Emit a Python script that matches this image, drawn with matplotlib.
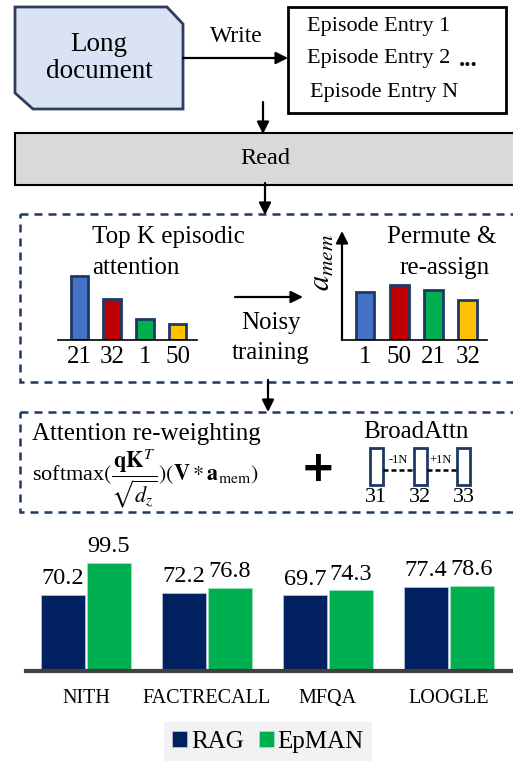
import numpy as np
import matplotlib
matplotlib.use("Agg")
import matplotlib.pyplot as plt
from matplotlib.patches import Polygon, Rectangle

plt.rcParams['font.family'] = ['Liberation Serif', 'DejaVu Serif']
plt.rcParams['mathtext.fontset'] = 'stix'

# data
topk_ids = ["21", "32", "1", "50"]
topk_attn = [0.64, 0.41, 0.21, 0.16]
perm_ids = ["1", "50", "21", "32"]
perm_attn = [0.48, 0.55, 0.50, 0.40]
small_colors = ["#4472c4", "#c00000", "#00b050", "#ffc000"]

datasets = ["NITH", "FACTRECALL", "MFQA", "LOOGLE"]
rag = [70.2, 72.2, 69.7, 77.4]
epman = [99.5, 76.8, 74.3, 78.6]

W, H = 513, 761
fig = plt.figure(figsize=(W / 100, H / 100), dpi=100)
ax = fig.add_axes([0, 0, 1, 1])
ax.set_xlim(0, W)
ax.set_ylim(H, 0)
ax.axis('off')

navy = "#1f3864"


def px_axes(x0, y0, x1, y1):
    # axes placed in pixel coordinates (y from top)
    return fig.add_axes([x0 / W, 1 - y1 / H, (x1 - x0) / W, (y1 - y0) / H])


def arrow(x0, y0, x1, y1):
    ax.annotate('', xy=(x1, y1), xytext=(x0, y0),
                arrowprops=dict(arrowstyle='-|>', color='black', lw=1.6,
                                mutation_scale=18, shrinkA=0, shrinkB=0))


# long document shape
doc = Polygon([(15, 7), (167, 7), (183, 24), (183, 109), (33, 109), (15, 93)],
              closed=True, facecolor="#dae3f3", edgecolor="#2f3e5c", lw=2)
ax.add_patch(doc)
ax.text(99, 58, "Long\ndocument", ha='center', va='center', fontsize=19.5,
        linespacing=1.15)

# write arrow
arrow(183, 58, 288, 58)
ax.text(236, 36, "Write", ha='center', va='center', fontsize=17)

# episode box
ax.add_patch(Rectangle((288, 7), 218, 106, facecolor='white', edgecolor='black', lw=2))
ax.text(307, 26, "Episode Entry 1", va='center', fontsize=16)
ax.text(307, 59, "Episode Entry 2", va='center', fontsize=16)
ax.text(310, 93, "Episode Entry N", va='center', fontsize=16)
ax.text(468, 60, "...", ha='center', va='center', fontsize=18, fontweight='bold')

arrow(263, 102, 263, 134)

# read bar
ax.add_patch(Rectangle((15, 133), 520, 52, facecolor="#d9d9d9", edgecolor='black', lw=1.5))
ax.text(265, 159, "Read", ha='center', va='center', fontsize=17.5)

arrow(265, 183, 265, 215)

# dashed box 1
ax.add_patch(Rectangle((20, 214), 520, 168, facecolor='none', edgecolor=navy,
                       lw=1.8, linestyle=(0, (3.2, 2.4))))

ax.text(92, 237, "Top K episodic", va='center', fontsize=18)
ax.text(92, 268, "attention", va='center', fontsize=18)

a1 = px_axes(58, 270, 197, 340)
a1.bar(range(4), topk_attn, width=0.52, color=small_colors, edgecolor=navy, lw=2)
a1.set_xlim(-0.64, 3.58)
a1.set_ylim(0, 0.7)
a1.axhline(0, color='black', lw=1.2, clip_on=False)
a1.set_xticks(range(4))
a1.set_xticklabels(topk_ids, fontsize=18)
a1.tick_params(length=0, pad=4)
a1.set_yticks([])
for s in a1.spines.values():
    s.set_visible(False)
a1.patch.set_alpha(0)

arrow(235, 297, 303, 297)
ax.text(271, 323, "Noisy", ha='center', va='center', fontsize=18)
ax.text(271, 353, "training", ha='center', va='center', fontsize=18)

a2 = px_axes(342, 232, 487, 340)
a2.bar(range(4), perm_attn, width=0.55, color=small_colors, edgecolor=navy, lw=2)
a2.set_xlim(-0.67, 3.56)
a2.set_ylim(0, 1.08)
a2.axhline(0, color='black', lw=1.2, clip_on=False)
a2.set_xticks(range(4))
a2.set_xticklabels(perm_ids, fontsize=18)
a2.tick_params(length=0, pad=4)
a2.set_yticks([])
for s in a2.spines.values():
    s.set_visible(False)
a2.patch.set_alpha(0)
arrow(342, 340, 342, 231)
ax.text(322, 262, r"$a_{mem}$", rotation=90, ha='center', va='center', fontsize=22)
ax.text(442, 237, "Permute &", ha='center', va='center', fontsize=18)
ax.text(445, 268, "re-assign", ha='center', va='center', fontsize=18)

arrow(268, 380, 268, 412)

# dashed box 2
ax.add_patch(Rectangle((20, 412), 520, 100, facecolor='none', edgecolor=navy,
                       lw=1.8, linestyle=(0, (3.2, 2.4))))
ax.text(32, 434, "Attention re-weighting", va='center', fontsize=18)
ax.text(32, 479, r"softmax$(\dfrac{\mathbf{qK}^{T}}{\sqrt{d_z}})(\mathbf{V}*\mathbf{a}_{\rm mem})$",
        va='center', fontsize=16)
ax.text(318, 469, "+", ha='center', va='center', fontsize=30, fontweight='bold',
        family='DejaVu Sans')
ax.text(416, 432, "BroadAttn", ha='center', va='center', fontsize=18)
for bx, lab in zip([370, 414, 457], ["31", "32", "33"]):
    ax.add_patch(Rectangle((bx, 448), 13, 37, facecolor='white', edgecolor=navy, lw=2))
    ax.text(bx + 6.5, 497, lab, ha='center', va='center', fontsize=16)
ax.plot([383, 414], [470, 470], color='black', lw=1.8, ls=(0, (2, 1.2)))
ax.plot([427, 457], [470, 470], color='black', lw=1.8, ls=(0, (2, 1.2)))
ax.text(398, 460, "-1N", ha='center', va='center', fontsize=9)
ax.text(441, 460, "+1N", ha='center', va='center', fontsize=9)

# bottom results chart
b = px_axes(26, 540, 513, 671)
x = np.arange(len(datasets))
w = 0.364
r1 = b.bar(x - 0.19, rag, width=w, color="#002060", edgecolor="#b4c0d8", lw=0.6, label="RAG")
r2 = b.bar(x + 0.19, epman, width=w, color="#00b050", edgecolor="#9fe0b8", lw=0.6, label="EpMAN")
b.bar_label(r1, labels=[f"{v}" for v in rag], fontsize=17.5, padding=4)
b.bar_label(r2, labels=[f"{v}" for v in epman], fontsize=17.5, padding=4)
b.set_xlim(-0.496, 3.53)
b.set_ylim(0, 120.7)
b.set_xticks(x)
b.set_xticklabels(datasets, fontsize=14.5)
b.tick_params(length=0, pad=13)
b.set_yticks([])
for s in ['top', 'right', 'left']:
    b.spines[s].set_visible(False)
b.spines['bottom'].set_color('#404040')
b.spines['bottom'].set_linewidth(3)
b.patch.set_alpha(0)

fig.legend(handles=[r1, r2], loc='center', bbox_to_anchor=(268 / W, 1 - 742 / H),
           ncol=2, fontsize=18, frameon=True, facecolor='#f2f2f2', edgecolor='none',
           fancybox=False, framealpha=1, handlelength=0.6, handleheight=0.6,
           handletextpad=0.15, columnspacing=0.6, borderpad=0.35)

fig.savefig("out.png", dpi=100)
